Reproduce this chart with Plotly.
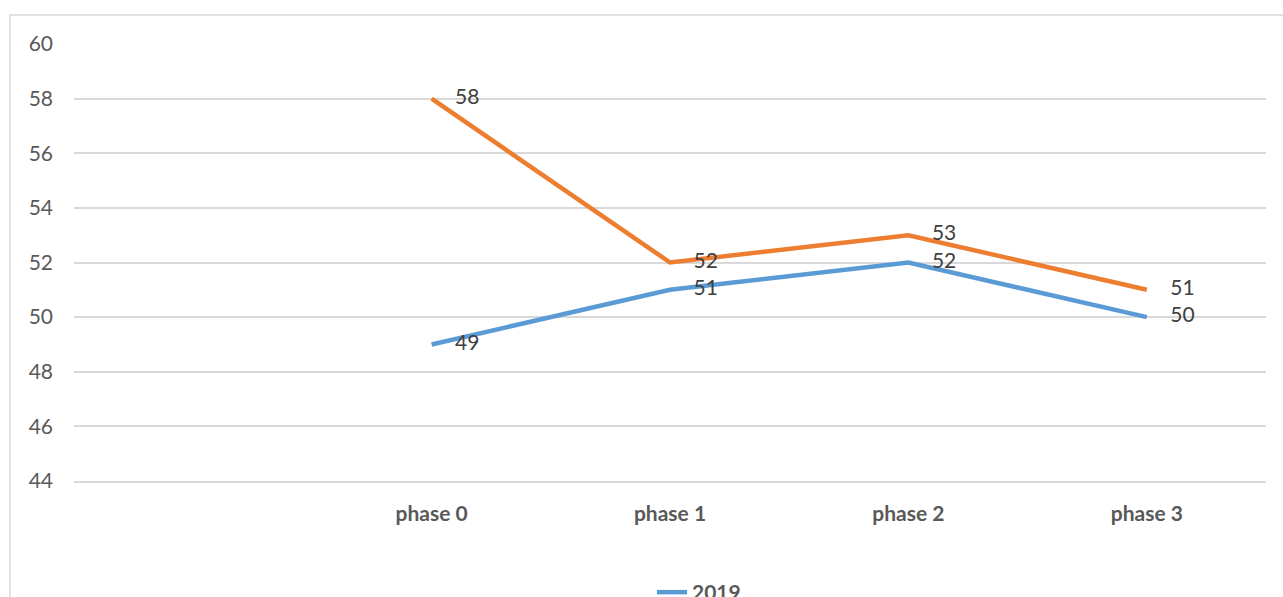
import plotly.graph_objects as go

categories = [" ", "phase 0", "phase 1", "phase 2", "phase 3"]
series_2019 = [None, 49, 51, 52, 50]
series_2020 = [None, 58, 52, 53, 51]
y_ticks = [44, 46, 48, 50, 52, 54, 56, 58, 60]

W, H = 1283, 597
L, R, T, B = 74, 17, 44, 116
pw, ph = W - L - R, H - T - B

def px2paper_x(px):
    return (px - L) / pw

def px2paper_y(py):
    return (H - B - py) / ph

label_font = dict(family="Lato", size=21, color="#404040")

fig = go.Figure()
fig.add_trace(go.Scatter(
    x=categories, y=series_2019, name="2019",
    mode="lines+markers+text",
    line=dict(color="#5b9bd5", width=4.5),
    marker=dict(size=36, color="rgba(0,0,0,0)"),
    text=[("" if v is None else str(v)) for v in series_2019],
    textposition="middle right",
    textfont=label_font,
    cliponaxis=False,
))
fig.add_trace(go.Scatter(
    x=categories, y=series_2020, name="2020",
    mode="lines+markers+text",
    line=dict(color="#ed7d31", width=4.5),
    marker=dict(size=36, color="rgba(0,0,0,0)"),
    text=[("" if v is None else str(v)) for v in series_2020],
    textposition="middle right",
    textfont=label_font,
    cliponaxis=False,
))

fig.add_shape(type="rect", xref="paper", yref="paper",
              x0=px2paper_x(10), x1=px2paper_x(1300),
              y0=px2paper_y(650), y1=px2paper_y(15),
              line=dict(color="#d9d9d9", width=1.5), layer="below")

fig.update_layout(
    width=W, height=H,
    margin=dict(l=L, r=R, t=T, b=B, autoexpand=False),
    paper_bgcolor="white", plot_bgcolor="white",
    font=dict(family="Lato", color="#595959"),
    showlegend=True,
    legend=dict(
        orientation="v", x=px2paper_x(652), y=px2paper_y(572),
        xanchor="left", yanchor="top",
        font=dict(family="Lato", size=21, color="#595959", weight="bold"),
        bgcolor="rgba(0,0,0,0)",
    ),
    xaxis=dict(
        type="category", categoryorder="array", categoryarray=categories,
        range=[-0.5, 4.5], showgrid=False, zeroline=False,
        showline=True, linecolor="#d9d9d9", linewidth=1.5,
        ticks="", ticklabelstandoff=13,
        tickfont=dict(family="Lato", size=21, color="#595959", weight="bold"),
    ),
    yaxis=dict(
        range=[44, 60], tickvals=y_ticks, showgrid=True,
        gridcolor="#d9d9d9", gridwidth=1.5, zeroline=False, showline=False,
        ticks="", ticklabelstandoff=20,
        tickfont=dict(family="Lato", size=21, color="#595959"),
    ),
)

fig.write_html("out.html")
